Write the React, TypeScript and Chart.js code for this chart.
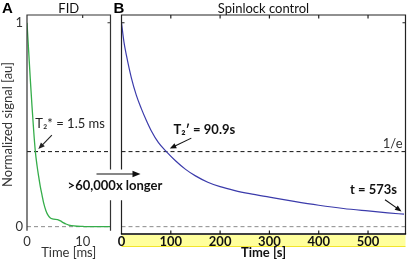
import React, { useEffect, useRef } from "react";
import { Chart, registerables } from "chart.js";
Chart.register(...registerables);

// ---- data ----
const fidTimeMs = [0, 0.3, 0.6, 0.9, 1.2, 1.5, 1.8, 2.1, 2.4, 2.7, 3.0, 3.4, 3.8, 4.2, 4.6, 5.0, 5.5, 6.0, 6.5, 7.0, 7.5, 8.0, 9.0, 10, 11, 12, 13, 14, 15];
const fidSignal = [1.0, 0.86, 0.72, 0.59, 0.47, 0.368, 0.3, 0.245, 0.195, 0.155, 0.115, 0.078, 0.055, 0.043, 0.038, 0.036, 0.034, 0.028, 0.02, 0.013, 0.008, 0.005, 0.002, 0.001, 0, 0, 0, 0, 0];
const spinlockTimeS = [0, 5, 10, 20, 30, 40, 50, 60, 75, 91, 110, 130, 150, 175, 200, 230, 260, 300, 350, 400, 450, 500, 540, 573];
const spinlockSignal = [1.0, 0.905, 0.84, 0.73, 0.645, 0.58, 0.523, 0.472, 0.412, 0.368, 0.322, 0.281, 0.249, 0.218, 0.196, 0.177, 0.162, 0.145, 0.124, 0.105, 0.089, 0.077, 0.068, 0.061];
const fidXTicks = [0, 10];
const signalTicks = [0, 1];
const spinlockXTicks = [0, 100, 200, 300, 400, 500];
const oneOverE = 0.368;
const t2StarMs = 1.5;
const t2PrimeS = 90.9;
const lastTimeS = 573;
const lastSignal = 0.061;

const FONT = "Lato, 'Open Sans', sans-serif";
const Y_MIN = -0.036;
const Y_MAX = 1.038;

function arrow(ctx: CanvasRenderingContext2D, x1: number, y1: number, x2: number, y2: number, head = 7, half = 2.8) {
  const a = Math.atan2(y2 - y1, x2 - x1);
  const c = Math.cos(a), s = Math.sin(a);
  ctx.beginPath();
  ctx.moveTo(x1, y1);
  ctx.lineTo(x2 - c * head * 0.8, y2 - s * head * 0.8);
  ctx.stroke();
  ctx.beginPath();
  ctx.moveTo(x2, y2);
  ctx.lineTo(x2 - head * c + half * s, y2 - head * s - half * c);
  ctx.lineTo(x2 - head * c - half * s, y2 - head * s + half * c);
  ctx.closePath();
  ctx.fill();
}

function hline(ctx: CanvasRenderingContext2D, x1: number, x2: number, y: number, color: string, dash: number[]) {
  ctx.save();
  ctx.strokeStyle = color;
  ctx.lineWidth = 1;
  ctx.setLineDash(dash);
  ctx.beginPath();
  ctx.moveTo(x1, y);
  ctx.lineTo(x2, y);
  ctx.stroke();
  ctx.restore();
}

const panelAPlugin = {
  id: "panelA",
  beforeDatasetsDraw(chart: any) {
    const { ctx, chartArea } = chart;
    const y = chart.scales.y;
    hline(ctx, chartArea.left, chartArea.right, y.getPixelForValue(0), "#8a8a8a", [4, 3]);
    hline(ctx, chartArea.left, chartArea.right, y.getPixelForValue(oneOverE), "#111", [4, 3]);
  },
  afterDatasetsDraw(chart: any) {
    const { ctx, chartArea } = chart;
    const { left, right, top } = chartArea;
    const x = chart.scales.x;
    const y = chart.scales.y;
    const frameBottom = y.getPixelForValue(0) + 4;
    const gapTop = y.getPixelForValue(0.28);
    const gapBottom = y.getPixelForValue(0.13);
    ctx.save();
    ctx.strokeStyle = "#333";
    ctx.lineWidth = 1.2;
    ctx.beginPath();
    ctx.moveTo(left, frameBottom);
    ctx.lineTo(left, top);
    ctx.lineTo(right, top);
    ctx.lineTo(right, gapTop);
    ctx.moveTo(right, gapBottom);
    ctx.lineTo(right, frameBottom);
    // inward ticks
    const tx = x.getPixelForValue(10);
    ctx.moveTo(tx, top);
    ctx.lineTo(tx, top + 3);
    const ty = y.getPixelForValue(1);
    ctx.moveTo(right, ty);
    ctx.lineTo(right - 3, ty);
    ctx.stroke();

    // annotation
    const px = x.getPixelForValue(t2StarMs);
    const py = y.getPixelForValue(oneOverE);
    ctx.fillStyle = "#222";
    ctx.strokeStyle = "#222";
    ctx.lineWidth = 1.1;
    arrow(ctx, px + 16.5, py - 16.5, px + 3, py - 2.5, 6.5, 2.7);
    ctx.font = `13px ${FONT}`;
    ctx.textAlign = "left";
    ctx.textBaseline = "middle";
    ctx.fillText("T\u2082* = 1.5 ms", px, py - 27.5);

    // panel letter
    ctx.fillStyle = "#000";
    ctx.font = "bold 15px 'Liberation Sans', Arial, sans-serif";
    ctx.textAlign = "left";
    ctx.textBaseline = "alphabetic";
    ctx.fillText("A", 2, 13);
    ctx.restore();
  },
};

const panelBPlugin = {
  id: "panelB",
  beforeDraw(chart: any) {
    const { ctx, chartArea } = chart;
    ctx.save();
    ctx.fillStyle = "#ffff9c";
    ctx.fillRect(chartArea.left, chartArea.bottom + 1, chartArea.right - chartArea.left, 11.5);
    ctx.strokeStyle = "#f2e52a";
    ctx.lineWidth = 1;
    ctx.beginPath();
    ctx.moveTo(chartArea.left, chartArea.bottom + 12.5);
    ctx.lineTo(chartArea.right, chartArea.bottom + 12.5);
    ctx.stroke();
    ctx.restore();
  },
  beforeDatasetsDraw(chart: any) {
    const { ctx, chartArea } = chart;
    const y = chart.scales.y;
    hline(ctx, chartArea.left, chartArea.right, y.getPixelForValue(0), "#8a8a8a", [4, 3]);
    hline(ctx, chartArea.left, chartArea.right, y.getPixelForValue(oneOverE), "#111", [4, 3]);
  },
  afterDatasetsDraw(chart: any) {
    const { ctx, chartArea } = chart;
    const { left, right, top, bottom } = chartArea;
    const x = chart.scales.x;
    const y = chart.scales.y;
    const gapTop = y.getPixelForValue(0.28);
    const gapBottom = y.getPixelForValue(0.13);
    ctx.save();
    ctx.strokeStyle = "#222";
    ctx.lineWidth = 1.2;
    ctx.beginPath();
    ctx.moveTo(left, gapTop);
    ctx.lineTo(left, top);
    ctx.lineTo(right, top);
    ctx.lineTo(right, bottom);
    ctx.moveTo(left, gapBottom);
    ctx.lineTo(left, bottom);
    // inward ticks
    spinlockXTicks.forEach((v) => {
      if (v === 0) return;
      const px = x.getPixelForValue(v);
      ctx.moveTo(px, top);
      ctx.lineTo(px, top + 3.5);
      ctx.moveTo(px, bottom);
      ctx.lineTo(px, bottom - 3.5);
    });
    const ty = y.getPixelForValue(1);
    ctx.moveTo(left, ty);
    ctx.lineTo(left + 3, ty);
    ctx.moveTo(right, ty);
    ctx.lineTo(right - 3, ty);
    ctx.stroke();
    // bottom axis line
    ctx.strokeStyle = "#000";
    ctx.lineWidth = 1.6;
    ctx.beginPath();
    ctx.moveTo(left - 0.6, bottom);
    ctx.lineTo(right + 0.6, bottom);
    ctx.stroke();

    ctx.fillStyle = "#111";
    ctx.strokeStyle = "#111";
    ctx.lineWidth = 1.1;
    // T2' annotation
    const p2x = x.getPixelForValue(t2PrimeS);
    const p2y = y.getPixelForValue(oneOverE);
    arrow(ctx, p2x + 25, p2y - 13.5, p2x + 3.5, p2y - 3, 6.5, 2.7);
    ctx.font = `bold 13px ${FONT}`;
    ctx.textAlign = "center";
    ctx.textBaseline = "middle";
    ctx.fillText("T\u2082\u2032 = 90.9s", p2x + 38, p2y - 21.5);

    // t = 573 annotation
    const p3x = x.getPixelForValue(lastTimeS);
    const p3y = y.getPixelForValue(lastSignal);
    arrow(ctx, p3x - 19, p3y - 14.5, p3x - 2.5, p3y - 2.8, 6.5, 2.7);
    ctx.textAlign = "right";
    ctx.fillText("t = 573s", p3x - 7, p3y - 24.5);

    // 1/e label
    ctx.font = `13px ${FONT}`;
    ctx.fillStyle = "#333";
    ctx.textAlign = "right";
    ctx.fillText("1/e", right - 3, p2y - 7.5);

    // >60,000x longer
    ctx.fillStyle = "#111";
    const ay = y.getPixelForValue(0.258);
    arrow(ctx, left - 25, ay, left + 19, ay, 8, 3.3);
    ctx.font = `bold 13px ${FONT}`;
    ctx.textAlign = "center";
    ctx.fillText(">60,000x longer", left - 6.5, y.getPixelForValue(0.2));

    // panel letter
    ctx.fillStyle = "#000";
    ctx.font = "bold 15px 'Liberation Sans', Arial, sans-serif";
    ctx.textAlign = "left";
    ctx.textBaseline = "alphabetic";
    ctx.fillText("B", left - 8, 13);
    ctx.restore();
  },
};

export default function App() {
  const refA = useRef<HTMLCanvasElement | null>(null);
  const refB = useRef<HTMLCanvasElement | null>(null);

  useEffect(() => {
    document.body.style.margin = "0";
    const chartA = new Chart(refA.current as HTMLCanvasElement, {
      type: "line",
      data: {
        datasets: [
          {
            label: "FID",
            data: fidTimeMs.map((t, i) => ({ x: t, y: fidSignal[i] })),
            borderColor: "#35ad4a",
            borderWidth: 1.3,
            pointRadius: 0,
            cubicInterpolationMode: "monotone",
            fill: false,
          },
        ],
      },
      options: {
        animation: false,
        responsive: false,
        devicePixelRatio: 1,
        layout: { padding: { left: 0, right: 304.5, top: 0, bottom: 0 } },
        plugins: {
          legend: { display: false },
          tooltip: { enabled: false },
          title: {
            display: true,
            text: "FID",
            fullSize: false,
            color: "#111",
            font: { family: FONT, size: 13, weight: "normal", lineHeight: 1 },
            padding: { top: 2, bottom: 0 },
          },
        },
        scales: {
          x: {
            type: "linear",
            min: 0,
            max: 15,
            grid: { display: false, drawTicks: false },
            border: { display: false },
            afterBuildTicks: (s: any) => { s.ticks = fidXTicks.map((v) => ({ value: v })); },
            ticks: { padding: 0, color: "#333", font: { family: FONT, size: 13 }, maxRotation: 0 },
            title: { display: true, text: "Time [ms]", color: "#333", font: { family: FONT, size: 13, lineHeight: 1 }, padding: { top: 0, bottom: 0.5 } },
            afterFit: (s: any) => { s.height = 26; },
          },
          y: {
            type: "linear",
            min: Y_MIN,
            max: Y_MAX,
            grid: { display: false, drawTicks: false },
            border: { display: false },
            afterBuildTicks: (s: any) => { s.ticks = signalTicks.map((v) => ({ value: v })); },
            ticks: { padding: 4, color: "#333", font: { family: FONT, size: 13 } },
            title: { display: true, text: "Normalized signal [au]", color: "#333", font: { family: FONT, size: 13, lineHeight: 1 }, padding: { top: 1.5, bottom: 0 } },
            afterFit: (s: any) => { s.width = 27; },
          },
        },
      },
      plugins: [panelAPlugin],
    } as any);

    const chartB = new Chart(refB.current as HTMLCanvasElement, {
      type: "line",
      data: {
        datasets: [
          {
            label: "Spinlock control",
            data: spinlockTimeS.map((t, i) => ({ x: t, y: spinlockSignal[i] })),
            borderColor: "#3b3bab",
            borderWidth: 1.2,
            pointRadius: 0,
            cubicInterpolationMode: "monotone",
            fill: false,
          },
        ],
      },
      options: {
        animation: false,
        responsive: false,
        devicePixelRatio: 1,
        layout: { padding: { left: 121.5, right: 9.5, top: 0, bottom: 0 } },
        plugins: {
          legend: { display: false },
          tooltip: { enabled: false },
          title: {
            display: true,
            text: "Spinlock control",
            color: "#111",
            font: { family: FONT, size: 13, weight: "normal", lineHeight: 1 },
            padding: { top: 2, bottom: 0 },
          },
        },
        scales: {
          x: {
            type: "linear",
            min: 0,
            max: 576,
            grid: { display: false, drawTicks: false },
            border: { display: false },
            afterBuildTicks: (s: any) => { s.ticks = spinlockXTicks.map((v) => ({ value: v })); },
            ticks: { padding: 0, color: "#111", font: { family: FONT, size: 13, weight: "bold" }, maxRotation: 0 },
            title: { display: true, text: "Time [s]", color: "#111", font: { family: FONT, size: 13, weight: "bold", lineHeight: 1 }, padding: { top: 0, bottom: 0.5 } },
            afterFit: (s: any) => { s.height = 26; },
          },
          y: {
            type: "linear",
            display: false,
            min: Y_MIN,
            max: Y_MAX,
          },
        },
      },
      plugins: [panelBPlugin],
    } as any);

    return () => {
      chartA.destroy();
      chartB.destroy();
    };
  }, []);

  const canvasStyle: React.CSSProperties = { position: "absolute", left: 0, top: 0, width: 415, height: 260 };
  return (
    <div style={{ position: "relative", width: 415, height: 260, background: "#fff" }}>
      <canvas ref={refA} width={415} height={260} style={canvasStyle} />
      <canvas ref={refB} width={415} height={260} style={canvasStyle} />
    </div>
  );
}
